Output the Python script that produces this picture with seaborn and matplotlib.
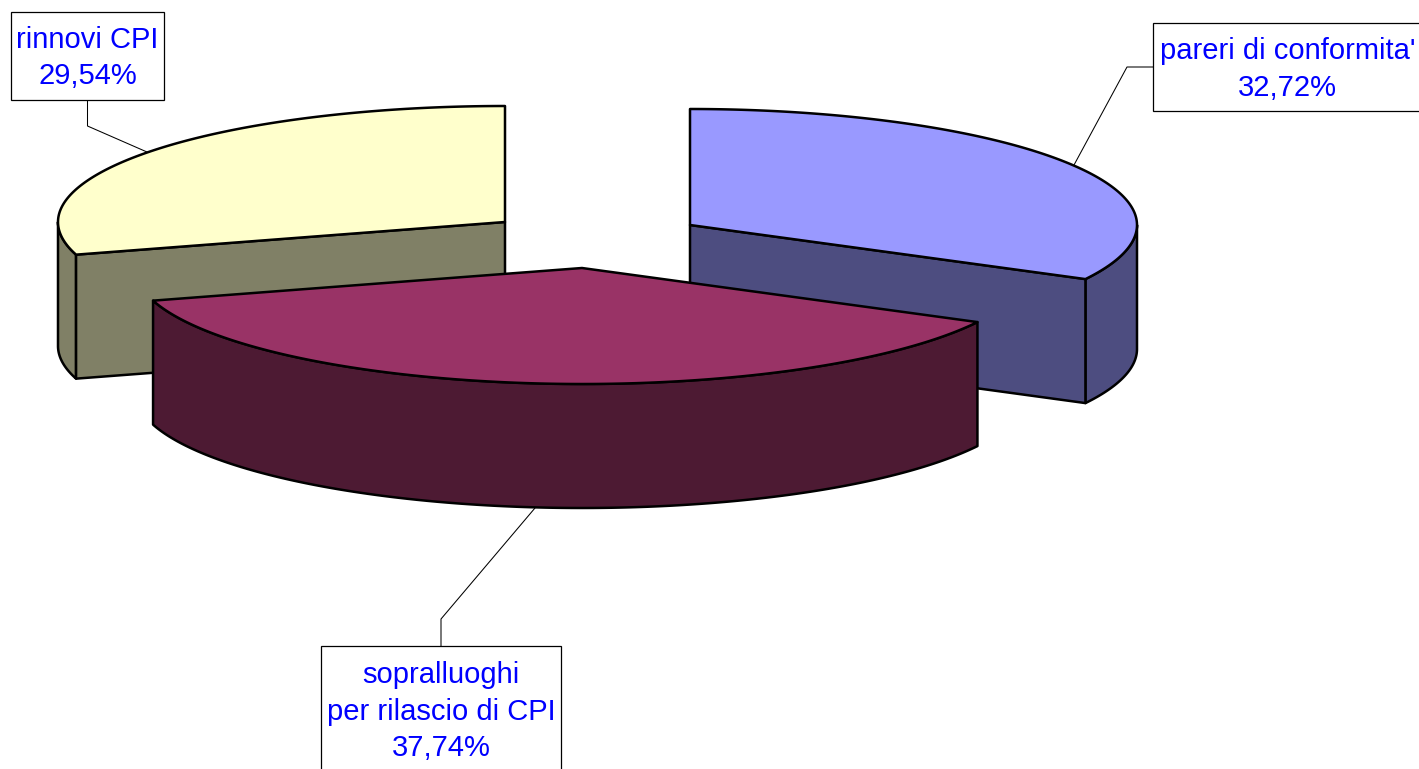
import numpy as np
import matplotlib
matplotlib.use('Agg')
import matplotlib.pyplot as plt
from matplotlib.patches import Rectangle
import seaborn as sns

labels = ["pareri di conformita'", 'sopralluoghi\nper rilascio di CPI', 'rinnovi CPI']
shares = [32.72, 37.74, 29.54]
colors = ['#9999FF', '#993366', '#FFFFCC']

# pie geometry in pixels
rx, ry, depth = 447, 116, 124
apex = [(690, 225), (582, 268), (505, 222)]
boxes = [(1153, 23, 270, 88), (320.5, 646, 240.5, 130), (10.5, 11.5, 153.5, 88)]
text_pos = [(1287.5, 69.5), (441, 711.5), (87.5, 58)]
leaders = [
    [(1153, 67), (1127, 67), (1074, 165)],
    [(441, 646), (441, 619), (535, 508)],
    [(87.5, 99), (87.5, 126), (147, 152)],
]
# drawn back to front
order = [0, 2, 1]


def rim(cx, cy, t0, t1, dy=0):
    t = np.radians(np.linspace(t0, t1, 200))
    return cx + rx * np.sin(t), cy - ry * np.cos(t) + dy


if __name__ == '__main__':
    sns.set_style('white')
    plt.rcParams['font.family'] = ['Liberation Sans', 'DejaVu Sans']

    fig = plt.figure(figsize=(14.19, 7.69), dpi=100)
    ax = fig.add_axes([0, 0, 1, 1])
    ax.set_xlim(0, 1419)
    ax.set_ylim(769, 0)
    ax.axis('off')

    edges = np.cumsum([0] + shares) / sum(shares) * 360
    line = dict(edgecolor='black', linewidth=1.8, joinstyle='round')

    for i in order:
        cx, cy = apex[i]
        t0, t1 = edges[i], edges[i + 1]
        top = colors[i]
        side = tuple(c * 0.5 for c in matplotlib.colors.to_rgb(top))

        # outer wall, only the part facing the viewer
        a, b = max(t0, 90), min(t1, 270)
        if a < b:
            x, y = rim(cx, cy, a, b)
            ax.fill(np.r_[x, x[::-1]], np.r_[y, y[::-1] + depth], facecolor=side, **line)

        # cut walls that can be seen
        if t0 > 0 and t1 >= 360:
            x, y = rim(cx, cy, t0, t0)
            ax.fill([cx, x[0], x[0], cx], [cy, y[0], y[0] + depth, cy + depth], facecolor=side, **line)
        if t0 == 0:
            x, y = rim(cx, cy, t1, t1)
            ax.fill([cx, x[0], x[0], cx], [cy, y[0], y[0] + depth, cy + depth], facecolor=side, **line)

        # top face
        x, y = rim(cx, cy, t0, t1)
        ax.fill(np.r_[cx, x], np.r_[cy, y], facecolor=top, **line)

    for i in range(3):
        px, py = zip(*leaders[i])
        ax.plot(px, py, color='black', lw=0.75, solid_joinstyle='miter')
        bx, by, bw, bh = boxes[i]
        ax.add_patch(Rectangle((bx, by), bw, bh, facecolor='white', edgecolor='black', lw=0.9, zorder=3))
        pct = f'{shares[i]:.2f}%'.replace('.', ',')
        ax.text(text_pos[i][0], text_pos[i][1], f'{labels[i]}\n{pct}', color='#0000FF', fontsize=21,
                ha='center', va='center', ma='center', linespacing=1.37, zorder=4)

    fig.savefig('out.png', dpi=100)
